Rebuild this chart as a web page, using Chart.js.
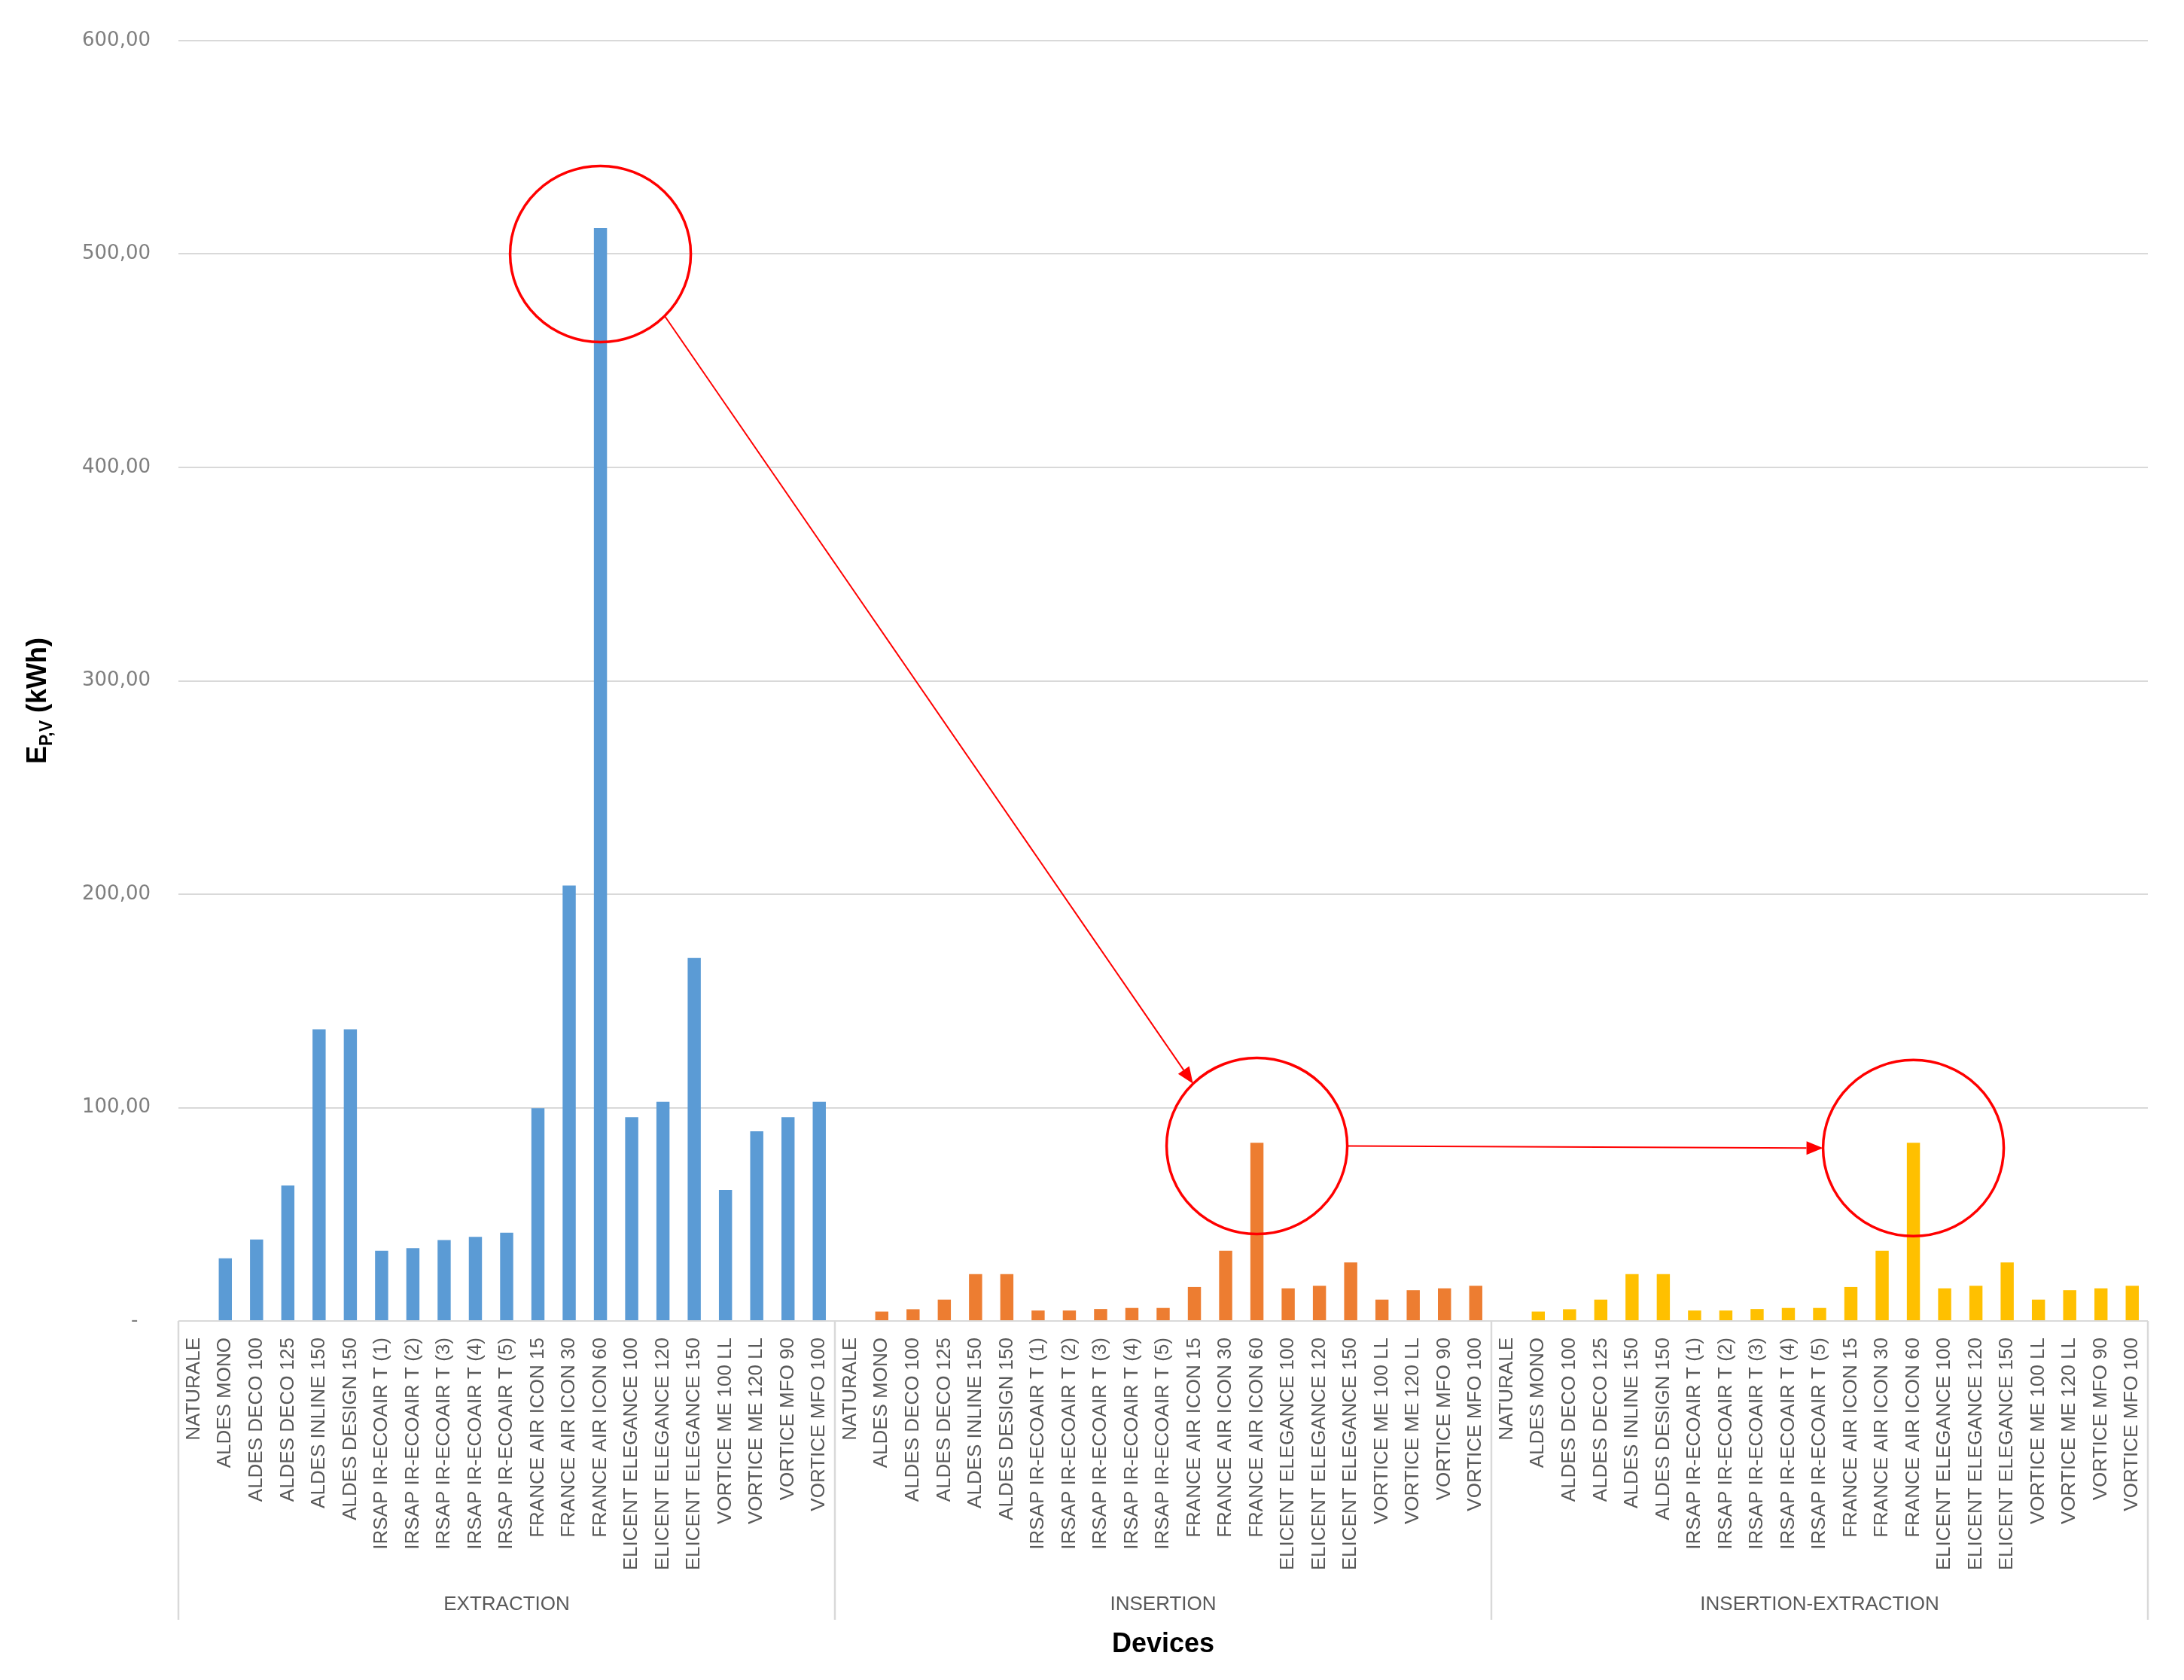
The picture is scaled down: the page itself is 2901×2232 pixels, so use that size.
<!DOCTYPE html>
<html>
<head>
<meta charset="utf-8">
<script src="https://cdn.jsdelivr.net/npm/chart.js@4.4.1/dist/chart.umd.min.js"></script>
<style>
  html, body { margin: 0; padding: 0; background: #ffffff; }
  #wrap { width: 2901px; height: 2232px; position: relative; }
  canvas { display: block; }
</style>
</head>
<body>
<div id="wrap"><canvas id="c" width="2901" height="2232"></canvas></div>
<script>
// ---------- DATA ----------
const devices = [
  'NATURALE', 'ALDES MONO', 'ALDES DECO 100', 'ALDES DECO 125', 'ALDES INLINE 150',
  'ALDES DESIGN 150', 'IRSAP IR-ECOAIR T (1)', 'IRSAP IR-ECOAIR T (2)', 'IRSAP IR-ECOAIR T (3)',
  'IRSAP IR-ECOAIR T (4)', 'IRSAP IR-ECOAIR T (5)', 'FRANCE AIR ICON 15', 'FRANCE AIR ICON 30',
  'FRANCE AIR ICON 60', 'ELICENT ELEGANCE 100', 'ELICENT ELEGANCE 120', 'ELICENT ELEGANCE 150',
  'VORTICE ME 100 LL', 'VORTICE ME 120 LL', 'VORTICE MFO 90', 'VORTICE MFO 100'
];
const groups = ['EXTRACTION', 'INSERTION', 'INSERTION-EXTRACTION'];

const extraction = [0, 29.4, 38.2, 63.5, 136.7, 136.7, 32.9, 34.1, 37.9, 39.4, 41.4,
  99.7, 204.1, 512.2, 95.5, 102.7, 170.1, 61.4, 88.9, 95.5, 102.7];
const insertion = [0, 4.4, 5.5, 10.0, 22.0, 22.0, 4.9, 4.9, 5.6, 6.1, 6.1,
  15.9, 32.9, 83.5, 15.3, 16.5, 27.4, 10.0, 14.4, 15.3, 16.5];
const insertionExtraction = [0, 4.4, 5.5, 10.0, 22.0, 22.0, 4.9, 4.9, 5.6, 6.1, 6.1,
  15.9, 32.9, 83.5, 15.3, 16.5, 27.4, 10.0, 14.4, 15.3, 16.5];

const yTicks = [0, 100, 200, 300, 400, 500, 600];

// highlighted bars (red ellipses) and arrows between them
const highlights = [
  { group: 0, device: 'FRANCE AIR ICON 60', value: 500 },
  { group: 1, device: 'FRANCE AIR ICON 60', value: 82 },
  { group: 2, device: 'FRANCE AIR ICON 60', value: 81 }
];
const arrows = [
  { from: 0, fromAngle: 44.7, to: 1, toAngle: 225 },
  { from: 1, fromAngle: 0, to: 2, toAngle: 180 }
];

// ---------- BUILD ----------
const seriesList = [extraction, insertion, insertionExtraction];
const colors = ['#5B9BD5', '#ED7D31', '#FFC000'];
const n = devices.length;
const allLabels = groups.flatMap(() => devices);

const datasets = seriesList.map((vals, g) => {
  const data = new Array(allLabels.length).fill(null);
  vals.forEach((v, i) => { data[g * n + i] = v; });
  return {
    label: groups[g],
    data: data,
    backgroundColor: colors[g],
    borderWidth: 0,
    grouped: false,
    barPercentage: 0.42,
    categoryPercentage: 1.0
  };
});

const fmt = v => v === 0 ? '-  ' : v.toFixed(2).replace('.', ',');

// group separators
const groupLinesPlugin = {
  id: 'groupLines',
  afterDraw(chart) {
    const x = chart.scales.x;
    const ctx = chart.ctx;
    const w = x.getPixelForValue(1) - x.getPixelForValue(0);
    const top = chart.chartArea.bottom;
    const bottom = x.bottom + 47;
    ctx.save();
    ctx.strokeStyle = '#D9D9D9';
    ctx.lineWidth = 2.5;
    for (let g = 0; g <= groups.length; g++) {
      const px = Math.round(x.getPixelForValue(g * n) - w / 2);
      ctx.beginPath();
      ctx.moveTo(px, top);
      ctx.lineTo(px, bottom);
      ctx.stroke();
    }
    ctx.restore();
  }
};

// y-axis title with subscript
const yTitlePlugin = {
  id: 'yTitle',
  afterDraw(chart) {
    const ctx = chart.ctx;
    const big = 'bold 36px "Liberation Sans", Arial, sans-serif';
    const small = 'bold 23px "Liberation Sans", Arial, sans-serif';
    ctx.save();
    ctx.translate(48, 931);
    ctx.rotate(-Math.PI / 2);
    ctx.fillStyle = '#000000';
    ctx.textBaseline = 'alphabetic';
    ctx.textAlign = 'left';
    ctx.font = big; const wE = ctx.measureText('E').width;
    ctx.font = small; const wS = ctx.measureText('P,V').width;
    ctx.font = big; const wR = ctx.measureText(' (kWh)').width;
    const x0 = -(wE + wS + wR) / 2;
    ctx.font = big; ctx.fillText('E', x0, 13);
    ctx.font = small; ctx.fillText('P,V', x0 + wE, 21);
    ctx.font = big; ctx.fillText(' (kWh)', x0 + wE + wS, 13);
    ctx.restore();
  }
};

// red ellipses + arrows
const annotationPlugin = {
  id: 'redMarks',
  afterDraw(chart) {
    const x = chart.scales.x, y = chart.scales.y;
    const ctx = chart.ctx;
    const rx = 120, ry = 117;
    const centers = highlights.map(h => ({
      cx: x.getPixelForValue(h.group * n + devices.indexOf(h.device)),
      cy: y.getPixelForValue(h.value)
    }));
    ctx.save();
    ctx.strokeStyle = '#FF0000';
    ctx.fillStyle = '#FF0000';
    ctx.lineWidth = 3.5;
    centers.forEach(c => {
      ctx.beginPath();
      ctx.ellipse(c.cx, c.cy, rx, ry, 0, 0, Math.PI * 2);
      ctx.stroke();
    });
    ctx.lineWidth = 2;
    arrows.forEach(a => {
      const c1 = centers[a.from], c2 = centers[a.to];
      const t1 = a.fromAngle * Math.PI / 180, t2 = a.toAngle * Math.PI / 180;
      const x1 = c1.cx + rx * Math.cos(t1), y1 = c1.cy + ry * Math.sin(t1);
      const x2 = c2.cx + rx * Math.cos(t2), y2 = c2.cy + ry * Math.sin(t2);
      const ang = Math.atan2(y2 - y1, x2 - x1);
      const hl = 22, hw = 9;
      const bx = x2 - hl * Math.cos(ang), by = y2 - hl * Math.sin(ang);
      ctx.beginPath();
      ctx.moveTo(x1, y1);
      ctx.lineTo(bx, by);
      ctx.stroke();
      ctx.beginPath();
      ctx.moveTo(x2, y2);
      ctx.lineTo(bx + hw * Math.sin(ang), by - hw * Math.cos(ang));
      ctx.lineTo(bx - hw * Math.sin(ang), by + hw * Math.cos(ang));
      ctx.closePath();
      ctx.fill();
    });
    ctx.restore();
  }
};

new Chart(document.getElementById('c'), {
  type: 'bar',
  data: { labels: allLabels, datasets: datasets },
  options: {
    responsive: false,
    animation: false,
    layout: { padding: { left: 0, right: 48, top: 54, bottom: 21 } },
    plugins: {
      legend: { display: false },
      tooltip: { enabled: false },
      title: { display: false }
    },
    scales: {
      x: {
        type: 'category',
        position: 'bottom',
        weight: 0,
        offset: true,
        grid: { display: true, drawOnChartArea: false, drawTicks: false, color: 'rgba(0,0,0,0)' },
        border: { display: false },
        ticks: {
          autoSkip: false,
          minRotation: 90,
          maxRotation: 90,
          padding: 22,
          color: '#595959',
          font: { family: '"Liberation Sans", Arial, sans-serif', size: 26 }
        },
        afterFit(scale) { scale.height = 350; }
      },
      xg: {
        type: 'category',
        position: 'bottom',
        weight: 1,
        labels: groups,
        offset: true,
        grid: { display: false, drawTicks: false },
        border: { display: false },
        ticks: {
          padding: 11,
          color: '#595959',
          font: { family: '"Liberation Sans", Arial, sans-serif', size: 26 }
        },
        title: {
          display: true,
          text: 'Devices',
          color: '#000000',
          padding: { top: 0, bottom: 4 },
          font: { family: '"Liberation Sans", Arial, sans-serif', size: 36, weight: 'bold' }
        },
        afterFit(scale) { scale.height = 106; }
      },
      y: {
        type: 'linear',
        position: 'left',
        min: 0,
        max: 600,
        afterBuildTicks(scale) { scale.ticks = yTicks.map(v => ({ value: v })); },
        grid: { color: '#D9D9D9', lineWidth: 2, drawTicks: false },
        border: { display: false },
        ticks: {
          padding: 37,
          color: '#7F7F7F',
          font: { family: '"DejaVu Sans", sans-serif', size: 26 },
          callback: v => fmt(v)
        },
        afterFit(scale) { scale.width = 237; }
      }
    }
  },
  plugins: [groupLinesPlugin, yTitlePlugin, annotationPlugin]
});
</script>
</body>
</html>
